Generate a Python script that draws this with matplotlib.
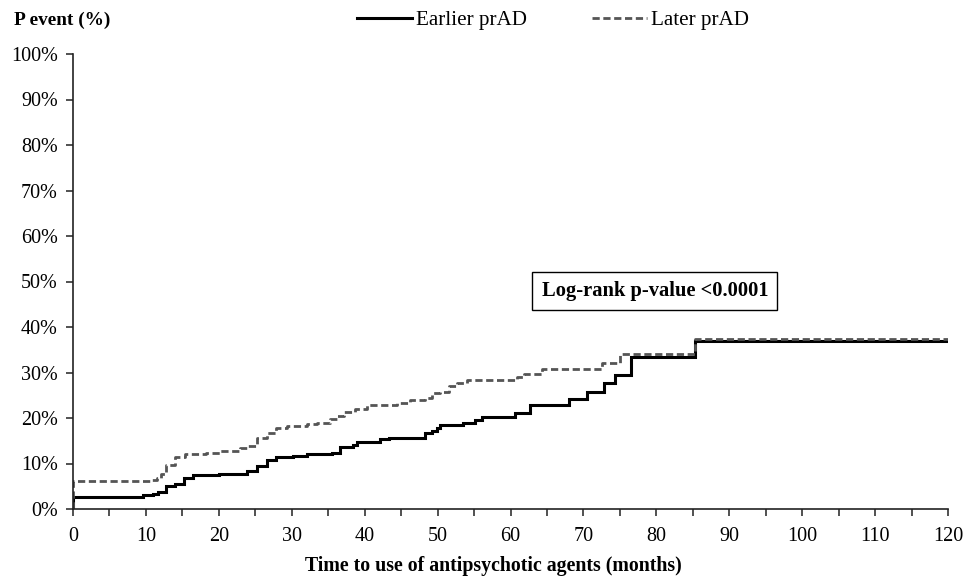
import matplotlib
matplotlib.use("Agg")
import matplotlib.pyplot as plt
from matplotlib.ticker import MultipleLocator, FuncFormatter

plt.rcParams['font.family'] = ['Liberation Serif', 'DejaVu Serif']

# Earlier prAD (solid) step curve: time (months) and cumulative event (%)
earlier_t = [0, 0, 9.6, 11.0, 11.7, 12.8, 14.0, 15.2, 16.5, 20.0, 22.9, 23.8, 25.2, 26.6,
             27.9, 30.2, 32.1, 35.5, 36.6, 38.4, 38.9, 42.1, 43.3, 48.3, 49.2, 49.9,
             50.3, 53.5, 55.1, 56.1, 60.6, 62.7, 68.0, 70.5, 72.8, 74.3, 76.5, 85.3, 120]
earlier_v = [0, 2.7, 3.0, 3.3, 3.8, 5.1, 5.6, 6.9, 7.5, 7.7, 7.8, 8.3, 9.5, 10.8,
             11.4, 11.7, 12.0, 12.3, 13.7, 14.1, 14.8, 15.3, 15.7, 16.6, 17.2, 17.7,
             18.5, 19.0, 19.6, 20.2, 21.0, 22.9, 24.2, 25.8, 27.6, 29.5, 33.5, 37.0, 37.0]

# Later prAD (dashed)
later_t = [0, 0, 10.6, 11.5, 12.0, 12.8, 14.0, 15.4, 18.3, 20.2, 22.9, 23.8, 25.2, 26.6,
           27.9, 29.3, 32.1, 33.4, 35.3, 36.2, 37.1, 38.7, 40.3, 44.4, 46.2, 48.3,
           49.2, 50.3, 51.5, 52.6, 54.0, 60.9, 61.8, 64.3, 72.5, 75.0, 85.3, 120]
later_v = [0, 6.2, 6.4, 6.8, 7.8, 9.7, 11.5, 12.1, 12.3, 12.8, 13.3, 13.8, 15.5, 16.6,
           17.7, 18.2, 18.7, 19.0, 19.7, 20.5, 21.4, 22.0, 22.9, 23.2, 24.0, 24.3,
           25.4, 25.8, 27.0, 27.8, 28.4, 29.1, 29.7, 30.7, 32.0, 34.0, 37.3, 37.3]

series_labels = ["Earlier prAD", "Later prAD"]
x_ticks = list(range(0, 121, 10))
y_ticks = list(range(0, 101, 10))

fig = plt.figure(figsize=(9.63, 5.78), dpi=100)
ax = fig.add_axes([73/963, 1-509/578, (948-73)/963, (509-54)/578])

l1, = ax.step(earlier_t, earlier_v, where='post', color='black', lw=2.2,
              label=series_labels[0], solid_joinstyle='miter')
l2, = ax.step(later_t, later_v, where='post', color='#555555', lw=2.0,
              dashes=(2.6, 1.3), label=series_labels[1])

ax.set_xlim(0, 120)
ax.set_ylim(0, 100)
ax.set_xticks(x_ticks)
ax.xaxis.set_minor_locator(MultipleLocator(5))
ax.set_yticks(y_ticks)
ax.yaxis.set_major_formatter(FuncFormatter(lambda v, p: f"{int(v)}%"))
for s in ['top', 'right']:
    ax.spines[s].set_visible(False)
for s in ['left', 'bottom']:
    ax.spines[s].set_color('#222222')
    ax.spines[s].set_linewidth(1.2)
ax.tick_params(axis='both', which='both', direction='out', length=5, width=1.1,
               color='#222222', labelsize=14.5)
ax.tick_params(axis='x', pad=8)
ax.tick_params(axis='y', pad=6)

ax.text(79.8, 47.9, "Log-rank p-value <0.0001", ha='center', va='center',
        fontsize=14.8, fontweight='bold',
        bbox=dict(boxstyle='square,pad=0.45', fc='white', ec='black', lw=1.0))

fig.text(14/963, 1-20/578, "P event (%)", ha='left', va='center',
         fontsize=13.9, fontweight='bold')
fig.text(493/963, 1-566/578, "Time to use of antipsychotic agents (months)",
         ha='center', va='center', fontsize=14.3, fontweight='bold')

fig.legend(handles=[l1, l2], loc='center', bbox_to_anchor=(553/963, 1-20/578),
           ncol=2, frameon=False, fontsize=15.2, handlelength=2.6,
           handletextpad=0.2, columnspacing=3.1, borderaxespad=0)

fig.savefig("out.png", dpi=100)
